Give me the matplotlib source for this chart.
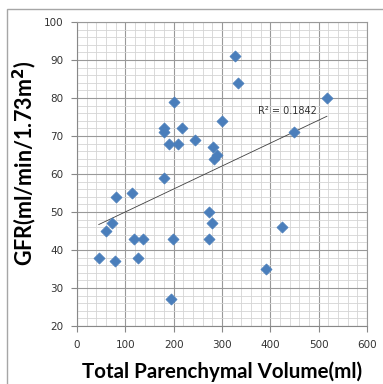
import matplotlib
matplotlib.use("Agg")
import matplotlib.pyplot as plt
import numpy as np
from matplotlib.patches import Rectangle
from matplotlib.ticker import MultipleLocator

# Total parenchymal volume (ml) vs GFR
volume = [45, 61, 72, 79, 80, 114, 118, 127, 137, 180, 179, 181, 191, 194,
          198, 200, 209, 218, 245, 273, 273, 280, 282, 284, 289, 301, 326,
          334, 390, 424, 448, 517]
gfr = [38, 45, 47, 37, 54, 55, 43, 38, 43, 59, 71, 72, 68, 27,
       43, 79, 68, 72, 69, 50, 43, 47, 67, 64, 65, 74, 91,
       84, 35, 46, 71, 80]
r2_label = "R² = 0.1842"

fig = plt.figure(figsize=(3.83, 3.84), dpi=100)
ax = fig.add_axes([77 / 383, 1 - 326 / 384, 290 / 383, 304 / 384])

# outer chart border
fig.patches.append(Rectangle((7 / 383, -0.05), 1.1, 1 - 9 / 384 + 0.05,
                             transform=fig.transFigure, fill=False,
                             edgecolor="#a6a6a6", linewidth=1.0))

ax.set_xlim(0, 600)
ax.set_ylim(20, 100)
ax.xaxis.set_major_locator(MultipleLocator(100))
ax.xaxis.set_minor_locator(MultipleLocator(20))
ax.yaxis.set_major_locator(MultipleLocator(10))
ax.yaxis.set_minor_locator(MultipleLocator(2))
ax.grid(which="major", color="#999999", linewidth=0.8)
ax.grid(which="minor", color="#d4d4d4", linewidth=0.6)
ax.set_axisbelow(True)

for side in ["top", "right"]:
    ax.spines[side].set_color("#999999")
    ax.spines[side].set_linewidth(0.8)
for side in ["left", "bottom"]:
    ax.spines[side].set_color("#888888")
    ax.spines[side].set_linewidth(0.8)

ax.tick_params(which="major", direction="out", length=4, width=0.8,
               color="#888888", labelsize=7.5, labelcolor="#333333", pad=6)
ax.tick_params(which="minor", length=0)

ax.scatter(volume, gfr, marker="D", s=32, color="#4a7ebb",
           edgecolors="#4a7ebb", linewidths=0.5, zorder=3)

# linear trendline
coef = np.polyfit(volume, gfr, 1)
xs = np.array([min(volume), max(volume)])
ax.plot(xs, np.polyval(coef, xs), color="#404040", linewidth=0.6, zorder=2)
ax.text(375, 76.5, r2_label, fontsize=7, color="#333333", ha="left", va="center")

font = ["Lato", "DejaVu Sans"]
fig.text(222 / 383, 1 - 372 / 384, "Total Parenchymal Volume(ml)",
         ha="center", va="center", fontsize=14.8, fontweight="bold", family=font)
fig.text(25 / 383, 1 - 163 / 384, "GFR(ml/min/1.73m$^{\\mathbf{2}}$)",
         ha="center", va="center", rotation=90, fontsize=15.5,
         fontweight="bold", family=font)

fig.savefig("out.png", dpi=100)
